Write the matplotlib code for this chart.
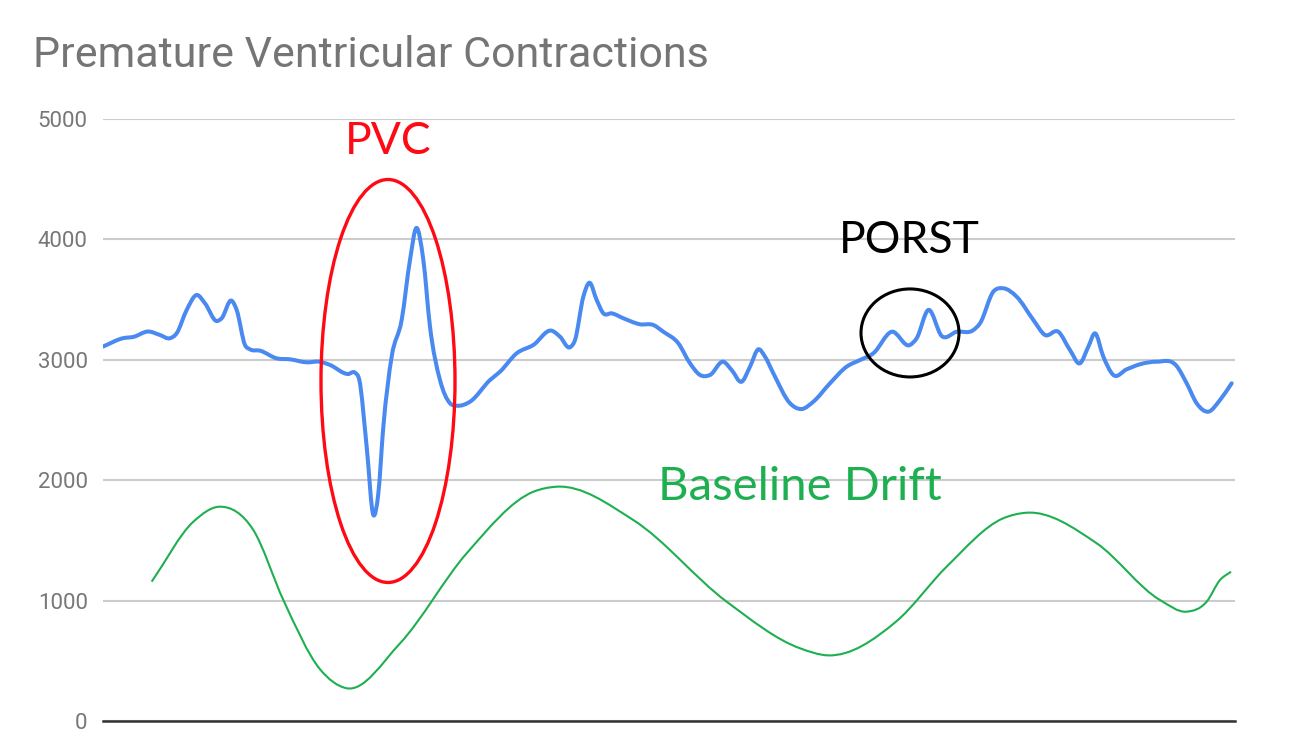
import matplotlib
matplotlib.use("Agg")
import matplotlib.pyplot as plt
import numpy as np
from matplotlib.patches import Ellipse, PathPatch
from matplotlib.path import Path

# ECG signal (sample index, amplitude)
ecg_x = [0, 6.1, 9.1, 13.6, 17.1, 20.1, 22.1, 25.1, 28.1, 30.6, 34.1, 35.6, 38.6, 40.1,
         42.6, 44.1, 47.1, 52.1, 56.1, 61.1, 65.1, 68.1, 73.6, 75.6, 76.9, 79.1, 81.1,
         82.6, 84.1, 86.6, 89.6, 92.1, 94.0, 96.1, 98.1, 101.1, 104.1, 106.1, 110.1,
         116.1, 119.1, 124.1, 129.1, 134.6, 137.1, 140.1, 141.6, 144.1, 145.9, 148.1,
         150.1, 152.6, 156.1, 161.1, 165.1, 168.1, 172.6, 176.1, 179.1, 182.1, 186.1,
         188.6, 191.6, 194.1, 196.6, 198.6, 201.1, 206.1, 209.6, 213.1, 218.1, 223.1,
         227.1, 231.1, 236.6, 242.1, 244.1, 247.6, 251.6, 256.1, 261.1, 263.1, 267.1,
         270.1, 274.1, 279.1, 282.6, 286.6, 290.1, 293.1, 295.6, 297.6, 300.1, 303.1,
         307.1, 311.1, 316.1, 322.1, 325.1, 328.1, 331.6, 335.1, 338.6]
ecg_y = [3110, 3180, 3190, 3235, 3206, 3179, 3220, 3414, 3538, 3469, 3322, 3345, 3491, 3414,
         3123, 3087, 3076, 3012, 3004, 2979, 2984, 2957, 2882, 2893, 2832, 2278, 1711,
         1891, 2444, 3026, 3331, 3829, 4095, 3829, 3275, 2832, 2639, 2619, 2652,
         2832, 2901, 3054, 3123, 3242, 3192, 3104, 3164, 3524, 3640, 3497,
         3386, 3386, 3345, 3295, 3289, 3233, 3137, 2971, 2874, 2874, 2984,
         2915, 2818, 2943, 3087, 3026, 2888, 2639, 2591, 2652, 2805, 2943,
         2998, 3054, 3233, 3123, 3179, 3414, 3198, 3233, 3247, 3303, 3566,
         3594, 3524, 3331, 3206, 3233, 3081, 2971, 3109, 3220, 3026, 2874,
         2921, 2963, 2984, 2948, 2805, 2639, 2569, 2666, 2805]

# baseline drift
drift_x = [14.6, 27.1, 35.1, 45.1, 54.1, 65.1, 73.1, 89.1, 109.1, 129.1, 136.1, 159.1,
           187.1, 209.1, 217.5, 238.1, 253.1, 270.1, 277.1, 298.1, 317.1, 325.1, 331.1,
           335.1, 338.4]
drift_y = [1157, 1655, 1780, 1586, 1005, 430, 272, 645, 1393, 1904, 1946, 1669,
           991, 604, 545, 830, 1282, 1684, 1730, 1476, 1005, 908, 991,
           1171, 1240]

y_ticks = [0, 1000, 2000, 3000, 4000, 5000]


def smooth_path(xs, ys):
    # cubic hermite curve through the points, drawn as bezier segments
    x = np.asarray(xs, float)
    y = np.asarray(ys, float)
    m = np.gradient(y, x)
    verts = [(x[0], y[0])]
    codes = [Path.MOVETO]
    for i in range(len(x) - 1):
        d = (x[i + 1] - x[i]) / 3
        verts += [(x[i] + d, y[i] + m[i] * d),
                  (x[i + 1] - d, y[i + 1] - m[i + 1] * d),
                  (x[i + 1], y[i + 1])]
        codes += [Path.CURVE4] * 3
    return Path(verts, codes)


fig = plt.figure(figsize=(12.96, 7.56), dpi=100)
ax = fig.add_axes([103 / 1296, 1 - 721 / 756, 1132 / 1296, 602 / 756])

ax.add_patch(PathPatch(smooth_path(ecg_x, ecg_y), fill=False, ec="#4a89f0", lw=2.9,
                       joinstyle="round", capstyle="round", zorder=3))
ax.add_patch(PathPatch(smooth_path(drift_x, drift_y), fill=False, ec="#1daf50", lw=1.5,
                       joinstyle="round", zorder=3))

ax.set_xlim(0, 339.6)
ax.set_ylim(0, 5000)
ax.set_yticks(y_ticks)
ax.set_xticks([])
ax.grid(axis="y", color="#cccccc", lw=1.5)
ax.set_axisbelow(True)
for s in ["top", "right", "left"]:
    ax.spines[s].set_visible(False)
ax.spines["bottom"].set_color("#333333")
ax.spines["bottom"].set_linewidth(1.8)
ax.tick_params(axis="y", length=0, pad=11, labelsize=16, labelcolor="#777777")
for lab in ax.get_yticklabels():
    lab.set_fontfamily("Roboto")

# annotations
ax.add_patch(Ellipse((85.5, 2824), 40.2, 3347, fill=False, ec="#ff0a14", lw=2.4,
                     zorder=4, clip_on=False))
ax.add_patch(Ellipse((242.1, 3223), 29.4, 731, fill=False, ec="black", lw=2.2, zorder=4))
ax.text(85.5, 4709, "PVC", color="#ff0a14", fontsize=32, family="Lato",
        ha="center", va="baseline", clip_on=False)
ax.text(241.8, 3887, "PORST", color="black", fontsize=32, family="Lato",
        ha="center", va="baseline")
ax.text(209.1, 1836, "Baseline Drift", color="#1daf50", fontsize=34, family="Lato",
        ha="center", va="baseline")

fig.text(33 / 1296, 1 - 67 / 756, "Premature Ventricular Contractions", family="Roboto",
         fontsize=31, color="#757575", va="baseline", ha="left")

fig.savefig("out.png", dpi=100)
